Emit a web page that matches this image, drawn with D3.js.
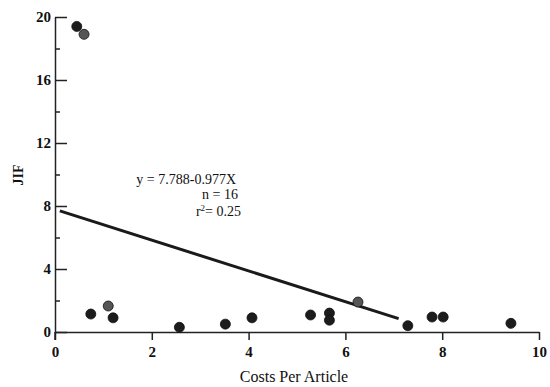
<!DOCTYPE html>
<html>
<head>
<meta charset="utf-8">
<script src="https://cdn.jsdelivr.net/npm/d3@7"></script>
<style>
  body { margin: 0; background: #fff; }
  text { font-family: "Liberation Serif", "DejaVu Serif", serif; fill: #111; }
</style>
</head>
<body>
<div id="viz"></div>
<script>
const w = 550;
const h = 387;

// cost per article vs JIF
const costs = [0.45, 0.6, 0.74, 1.1, 1.2, 2.57, 3.52, 4.07, 5.28, 5.67, 5.67, 6.26, 7.29, 7.79, 8.02, 9.42];
const jif   = [19.4, 18.9, 1.14, 1.65, 0.9, 0.3, 0.5, 0.9, 1.08, 1.2, 0.75, 1.9, 0.4, 0.95, 0.95, 0.55];
const grayPts = [1, 3, 11];

// fitted line ends
const fitX = [0.1, 7.1];
const fitY = [7.69, 0.85];

const xTicks = [0, 2, 4, 6, 8, 10];
const yTicks = [0, 4, 8, 12, 16, 20];
const yMinor = [2, 6, 10, 14, 18];

const x = d3.scaleLinear().domain([0, 10]).range([55, 539]);
const y = d3.scaleLinear().domain([0, 20]).range([332, 17]);

const svg = d3.select('#viz').append('svg')
    .attr('width', w)
    .attr('height', h)

// x axis
let xAxis = svg.append('g')
    .attr('transform', `translate(0,${y(0)})`)
    .call(d3.axisBottom(x).tickValues(xTicks).tickSize(8).tickSizeOuter(0).tickPadding(6))
xAxis.select('.domain').attr('stroke', '#222').attr('stroke-width', 1.5)
xAxis.selectAll('.tick line').attr('stroke', '#222').attr('stroke-width', 1.5)
xAxis.selectAll('.tick text')
    .attr('font-family', '"Liberation Serif", serif')
    .attr('font-size', 15)
    .attr('font-weight', 'bold')
    .attr('fill', '#111')

// y axis, ticks pointing in
let yAxis = svg.append('g')
    .attr('transform', `translate(${x(0)},0)`)
    .call(d3.axisRight(y).tickValues(yTicks).tickSize(12).tickSizeOuter(0).tickFormat(''))
yAxis.select('.domain').attr('stroke', '#222').attr('stroke-width', 1.5)
yAxis.selectAll('.tick line').attr('stroke', '#222').attr('stroke-width', 1.5)

svg.append('g')
    .attr('transform', `translate(${x(0)},0)`)
    .call(d3.axisRight(y).tickValues(yMinor).tickSize(5).tickFormat(''))
    .call(g => g.select('.domain').remove())
    .selectAll('.tick line').attr('stroke', '#222').attr('stroke-width', 1.5)

// small stub below the origin
svg.append('line')
    .attr('x1', x(0)).attr('x2', x(0))
    .attr('y1', y(0)).attr('y2', y(0) + 8)
    .attr('stroke', '#222').attr('stroke-width', 1.5)

svg.append('g').selectAll('text')
    .data(yTicks)
    .join('text')
    .attr('x', x(0) - 4)
    .attr('y', d => y(d))
    .attr('dy', '0.35em')
    .attr('text-anchor', 'end')
    .attr('font-size', 15)
    .attr('font-weight', 'bold')
    .text(d => d)

// axis titles
svg.append('text')
    .attr('x', 294)
    .attr('y', 382)
    .attr('text-anchor', 'middle')
    .attr('font-size', 16)
    .text('Costs Per Article')

svg.append('text')
    .attr('transform', `translate(23,175) rotate(-90)`)
    .attr('text-anchor', 'middle')
    .attr('font-size', 14)
    .attr('font-weight', 'bold')
    .text('JIF')

// regression line
const fit = d3.line().x(d => x(d[0])).y(d => y(d[1]));
svg.append('path')
    .attr('d', fit(d3.zip(fitX, fitY)))
    .attr('stroke', '#1a1a1a')
    .attr('stroke-width', 3)
    .attr('fill', 'none')

// points
svg.append('g').selectAll('circle')
    .data(d3.zip(costs, jif))
    .join('circle')
    .attr('cx', d => x(d[0]))
    .attr('cy', d => y(d[1]))
    .attr('r', 5)
    .attr('fill', (d, i) => grayPts.includes(i) ? '#555' : '#1c1c1c')
    .attr('stroke', '#111')
    .attr('stroke-width', 0.8)

// annotation
let note = svg.append('g')
    .attr('font-size', 14)
    .attr('text-anchor', 'end')

note.append('text').attr('x', 236).attr('y', 184).text('y = 7.788-0.977X')
note.append('text').attr('x', 238).attr('y', 199).text('n = 16')
let r2 = note.append('text').attr('x', 241).attr('y', 216)
r2.append('tspan').text('r')
r2.append('tspan').attr('dy', -5).attr('font-size', 9).text('2')
r2.append('tspan').attr('dy', 5).text('= 0.25')
</script>
</body>
</html>
